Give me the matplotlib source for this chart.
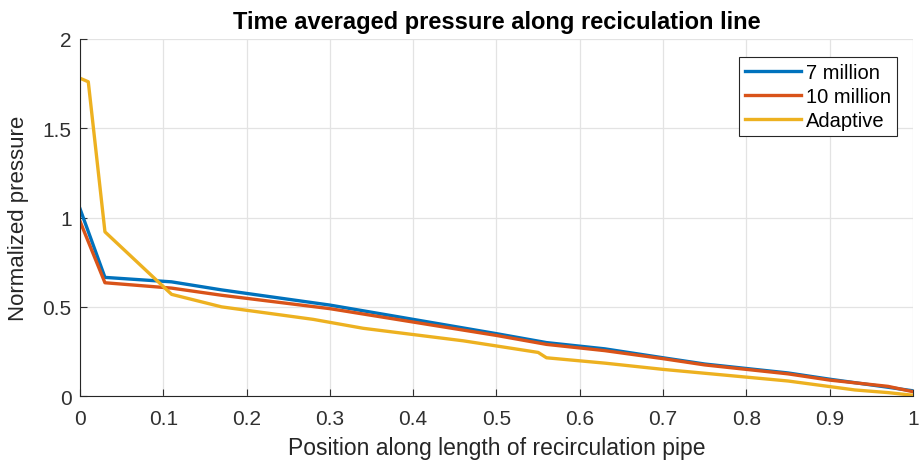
import matplotlib
matplotlib.use("Agg")
import matplotlib.pyplot as plt
import numpy as np

plt.rcParams['font.family'] = ['Liberation Sans', 'DejaVu Sans']

# 7 million cells
x_7m = [0, 0.03, 0.11, 0.17, 0.30, 0.40, 0.50, 0.56, 0.63, 0.70, 0.75, 0.85, 0.90, 0.97, 1.0]
p_7m = [1.05, 0.665, 0.64, 0.595, 0.51, 0.43, 0.35, 0.30, 0.265, 0.215, 0.18, 0.13, 0.095, 0.05, 0.03]

# 10 million cells
x_10m = [0, 0.03, 0.11, 0.17, 0.30, 0.40, 0.50, 0.56, 0.63, 0.70, 0.75, 0.85, 0.90, 0.97, 1.0]
p_10m = [0.98, 0.635, 0.605, 0.565, 0.49, 0.415, 0.34, 0.29, 0.255, 0.21, 0.175, 0.125, 0.09, 0.055, 0.025]

# adaptive mesh
x_ad = [0, 0.01, 0.03, 0.11, 0.17, 0.28, 0.34, 0.46, 0.55, 0.56, 0.63, 0.70, 0.85, 0.93, 0.97, 1.0]
p_ad = [1.78, 1.76, 0.92, 0.57, 0.50, 0.43, 0.38, 0.31, 0.245, 0.215, 0.185, 0.15, 0.085, 0.035, 0.02, 0.005]

fig = plt.figure(figsize=(9.19, 4.64), dpi=100)
ax = fig.add_axes([0.087, 0.144, 0.9065, 0.77])

ax.plot(x_7m, p_7m, color='#0072BD', lw=2.4, label='7 million')
ax.plot(x_10m, p_10m, color='#D95319', lw=2.4, label='10 million')
ax.plot(x_ad, p_ad, color='#EDB120', lw=2.4, label='Adaptive')

ax.set_xlim(0, 1)
ax.set_ylim(0, 2)
ax.set_xticks(np.arange(0, 1.01, 0.1))
ax.set_xticklabels(['0', '0.1', '0.2', '0.3', '0.4', '0.5', '0.6', '0.7', '0.8', '0.9', '1'])
ax.set_yticks([0, 0.5, 1, 1.5, 2])
ax.set_yticklabels(['0', '0.5', '1', '1.5', '2'])
ax.grid(True, color='#e3e3e3', lw=0.9)
ax.set_axisbelow(True)
ax.tick_params(direction='in', length=5, labelsize=15, colors='#303030')
ax.tick_params(axis='x', pad=9)
ax.tick_params(axis='y', pad=6)
for s in ['top', 'right']:
    ax.spines[s].set_visible(False)
for s in ['left', 'bottom']:
    ax.spines[s].set_color('#262626')

ax.set_xlabel('Position along length of recirculation pipe', fontsize=16.5, color='#262626', labelpad=6)
ax.set_ylabel('Normalized pressure', fontsize=16, color='#262626', labelpad=10)
ax.set_title('Time averaged pressure along reciculation line', fontsize=17, fontweight='bold', pad=8)

leg = ax.legend(loc='upper right', bbox_to_anchor=(0.981, 0.95), fontsize=14.5,
                fancybox=False, framealpha=1, edgecolor='#262626', handlelength=2.8,
                borderpad=0.3, labelspacing=0.25, handletextpad=0.25, borderaxespad=0)
leg.get_frame().set_linewidth(0.8)

fig.savefig('out.png', dpi=100)
